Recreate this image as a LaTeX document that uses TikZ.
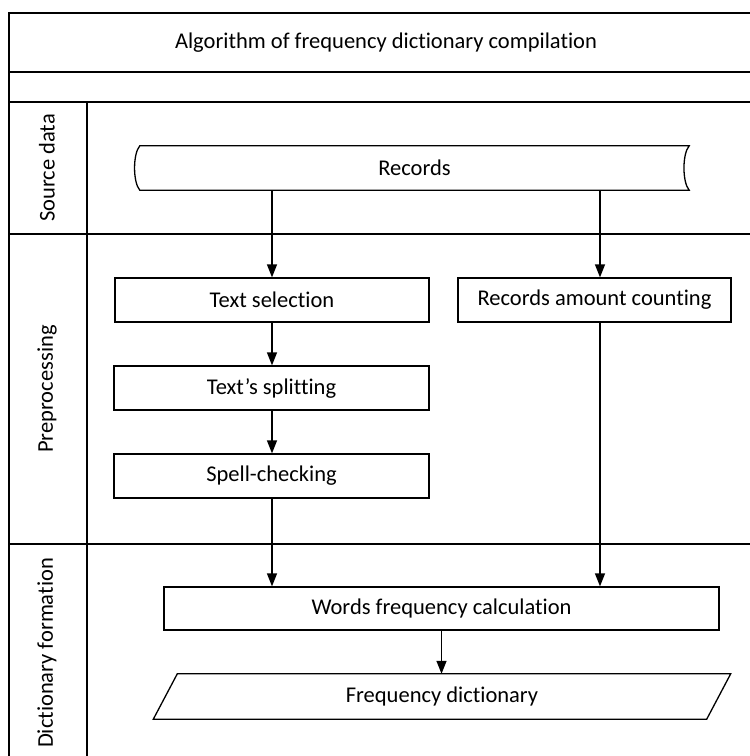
\documentclass[tikz,border=0pt]{standalone}
\usepackage{fontspec}
\setmainfont{Carlito}[Ligatures={NoCommon}]
\usetikzlibrary{arrows.meta,calc}
\begin{document}
\begin{tikzpicture}[x=1pt,y=-1pt,
  every node/.style={font=\fontsize{22.5}{27}\selectfont},
  procbox/.style={draw,line width=1.3pt,inner sep=0pt},
  plainbox/.style={inner sep=0pt},
  lanelabel/.style={font=\fontsize{22.5}{27}\selectfont,rotate=90},
  frameline/.style={line width=1.5pt},
  shapeline/.style={line width=1.3pt},
  flow/.style={line width=1.3pt,-{Triangle[length=13pt,width=10pt]}}]
\useasboundingbox (0,0) rectangle (750,756);
% frame and lanes
\draw[frameline] (750,13) -- (9,13) -- (9,756);
\draw[frameline] (9,72) -- (750,72);
\draw[frameline] (9,102) -- (750,102);
\draw[frameline] (9,234) -- (750,234);
\draw[frameline] (9,544) -- (750,544);
\draw[frameline] (87,102) -- (87,756);
% title and lane labels
\node (title) at (386,43) {Algorithm of frequency dictionary compilation};
\node[lanelabel] (lsrc) at (47,168) {Source data};
\node[lanelabel] (lpre) at (47,389) {Preprocessing};
\node[lanelabel] (ldict) at (47,653) {Dictionary formation};
% records (stored data shape)
\node[plainbox,minimum width=549pt,minimum height=44pt] (records) at (414.5,168) {Records};
\draw[shapeline] (records.north west) -- (records.north east)
  .. controls ($(records.north east)+(-7,8)$) and ($(records.south east)+(-7,-8)$) .. (records.south east)
  -- (records.south west)
  .. controls ($(records.south west)+(-7,-8)$) and ($(records.north west)+(-7,8)$) .. (records.north west)
  -- cycle;
% process boxes
\node[procbox,minimum width=314pt,minimum height=44pt] (textsel) at (272,300) {Text selection};
\node[procbox,minimum width=273pt,minimum height=44pt] (recamount) at (594.5,300) {Records amount counting};
\node[procbox,minimum width=315pt,minimum height=44pt] (split) at (271.5,388) {Text’s splitting};
\node[procbox,minimum width=315pt,minimum height=44pt] (spell) at (271.5,476) {Spell-checking};
\node[procbox,minimum width=555pt,minimum height=43pt] (words) at (441.5,608.5) {Words frequency calculation};
% output parallelogram
\node[plainbox,minimum width=553pt,minimum height=45pt] (freq) at (442,696.5) {Frequency dictionary};
\draw[shapeline] ($(freq.north west)+(12,0)$) -- ($(freq.north east)+(12,0)$)
  -- ($(freq.south east)+(-12,0)$) -- ($(freq.south west)+(-12,0)$) -- cycle;
% connectors
\coordinate (ra) at ([xshift=5.5pt]recamount.north);
\coordinate (rb) at ([xshift=5.5pt]recamount.south);
\draw[flow] (records.south -| textsel.north) -- (textsel.north);
\draw[flow] (records.south -| ra) -- (ra);
\draw[flow] (textsel.south) -- (split.north -| textsel.south);
\draw[flow] (split.south -| textsel.south) -- (spell.north -| textsel.south);
\draw[flow] (spell.south -| textsel.south) -- (words.north -| textsel.south);
\draw[flow] (rb) -- (rb |- words.north);
\draw[flow] (words.south) -- (words.south |- freq.north);
\end{tikzpicture}
\end{document}
